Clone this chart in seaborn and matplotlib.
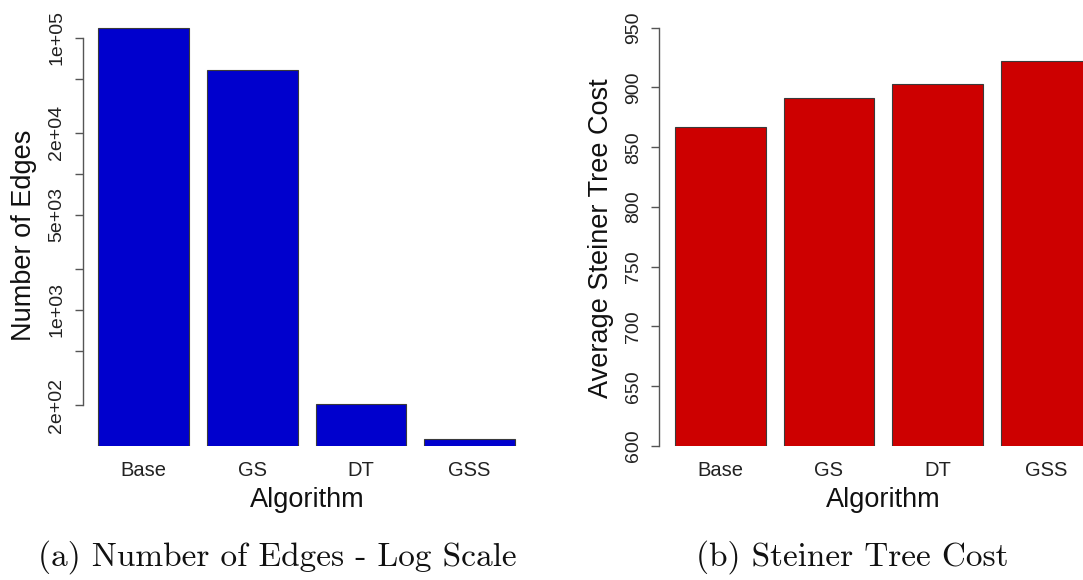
import matplotlib
matplotlib.use("Agg")
import matplotlib.pyplot as plt
import seaborn as sns
import pandas as pd

# Data
algorithms = ["Base", "GS", "DT", "GSS"]
edge_counts = [117000, 57600, 202, 112]
tree_costs = [866.9, 890.8, 902.5, 922.4]

edge_ticks = [2e2, 5e2, 1e3, 2e3, 5e3, 1e4, 2e4, 5e4, 1e5]
edge_tick_labels = ["2e+02", "", "1e+03", "", "5e+03", "", "2e+04", "", "1e+05"]
cost_ticks = [600, 650, 700, 750, 800, 850, 900, 950]
cost_tick_labels = [str(t) for t in cost_ticks]

sns.set_theme(style="white")
plt.rcParams["font.family"] = ["Liberation Sans", "DejaVu Sans"]

W, H = 1083, 580
fig = plt.figure(figsize=(W / 100, H / 100), dpi=100)

def px_axes(left, right, top, bottom):
    return fig.add_axes([left / W, 1 - bottom / H, (right - left) / W, (bottom - top) / H])

ax1 = px_axes(82.7, 540, 0, 446)
ax2 = px_axes(659, 1100, 0, 446)

df_edges = pd.DataFrame({"Algorithm": algorithms, "Edges": edge_counts})
df_cost = pd.DataFrame({"Algorithm": algorithms, "Cost": tree_costs})

sns.barplot(data=df_edges, x="Algorithm", y="Edges", ax=ax1, color="#0000CD",
            saturation=1, width=0.836, edgecolor="#3a3a3a", linewidth=0.8)
sns.barplot(data=df_cost, x="Algorithm", y="Cost", ax=ax2, color="#CD0000",
            saturation=1, width=0.836, edgecolor="#3a3a3a", linewidth=0.8)

ax1.set_yscale("log")
ax1.set_ylim(100, 1.892e5)
ax1.set_xlim(-0.5626, 3.648)
ax1.set_yticks(edge_ticks)
ax1.set_yticklabels(edge_tick_labels)
ax1.yaxis.set_minor_locator(matplotlib.ticker.NullLocator())

ax2.set_ylim(600, 973.2)
ax2.set_xlim(-0.5645, 3.496)
ax2.set_yticks(cost_ticks)
ax2.set_yticklabels(cost_tick_labels)

for ax, lo, hi in [(ax1, 2e2, 1e5), (ax2, 600, 950)]:
    for s in ["top", "right", "bottom"]:
        ax.spines[s].set_visible(False)
    ax.spines["left"].set_bounds(lo, hi)
    ax.spines["left"].set_color("#555555")
    ax.spines["left"].set_linewidth(1.0)
    ax.patch.set_alpha(0)
    ax.grid(False)
    ax.tick_params(axis="y", which="major", left=True, length=5.5, width=1.0,
                   color="#555555", pad=7, labelsize=14, labelcolor="#222222",
                   labelrotation=90)
    ax.tick_params(axis="x", bottom=False, length=0, pad=11, labelsize=14.5,
                   labelcolor="#222222")
    for lbl in ax.get_yticklabels():
        lbl.set_va("center")

ax1.set_xlabel("Algorithm", fontsize=19.5, color="#111111")
ax1.set_ylabel("Number of Edges", fontsize=19.5, color="#111111")
ax2.set_xlabel("Algorithm", fontsize=19.5, color="#111111")
ax2.set_ylabel("Average Steiner Tree Cost", fontsize=19.5, color="#111111")

def place_label(ax, axis, x_px, y_px, left_px, right_px):
    fx = (x_px - left_px) / (right_px - left_px)
    fy = (446 - y_px) / 446
    lab = ax.xaxis if axis == "x" else ax.yaxis
    lab.set_label_coords(fx, fy)
    lab.label.set_va("center")
    lab.label.set_ha("center")

place_label(ax1, "x", 307, 500, 82.7, 540)
place_label(ax1, "y", 24, 235, 82.7, 540)
place_label(ax2, "x", 883, 500, 659, 1100)
place_label(ax2, "y", 601, 238, 659, 1100)

fig.text(277 / W, 1 - 557 / H, "(a) Number of Edges - Log Scale", family="cmr10",
         fontsize=24, ha="center", va="center", color="#111111")
fig.text(852 / W, 1 - 557 / H, "(b) Steiner Tree Cost", family="cmr10",
         fontsize=24, ha="center", va="center", color="#111111")

fig.savefig("out.png", dpi=100)
